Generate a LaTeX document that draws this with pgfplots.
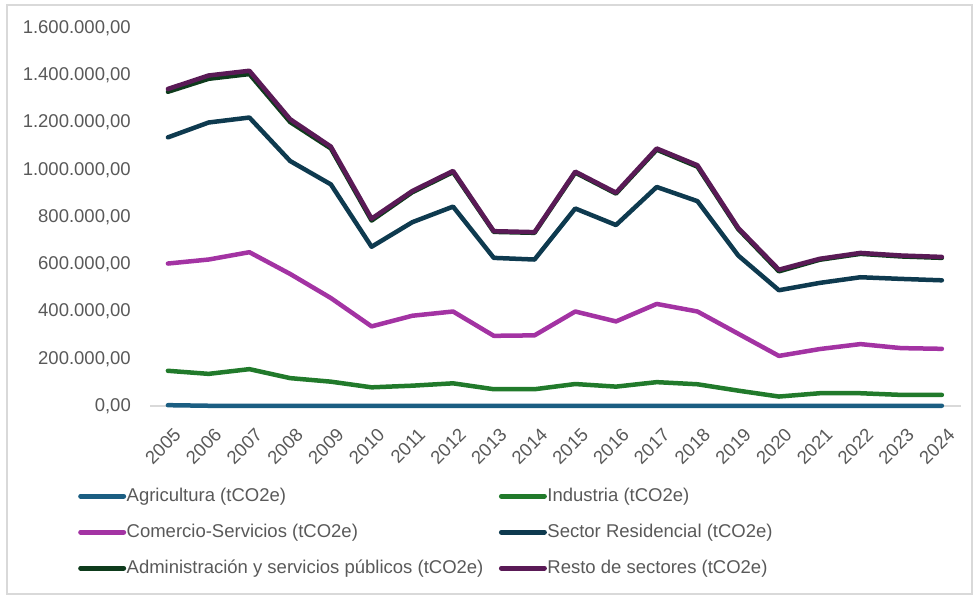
\documentclass[border=0pt]{standalone}
\usepackage{pgfplots}
\pgfplotsset{compat=1.18}
\usepackage{fontspec}
\setmainfont{Liberation Sans}
\definecolor{cAgr}{HTML}{1B5E82}
\definecolor{cInd}{HTML}{217A2B}
\definecolor{cCom}{HTML}{A333A3}
\definecolor{cRes}{HTML}{0E3A4F}
\definecolor{cAdm}{HTML}{0E3B1C}
\definecolor{cRst}{HTML}{5A1A56}
\definecolor{tgray}{HTML}{595959}
\definecolor{lgray}{HTML}{D9D9D9}
\newcommand{\fs}{\fontsize{18.5bp}{22bp}\selectfont}
\pgfplotstableread{
x agr ind com res adm rst
0 3500 149000 603000 1137000 1330000 1342000
1 1000 136000 620000 1200000 1385000 1399000
2 1000 156000 651000 1221000 1405000 1419000
3 1000 118000 559000 1037000 1202000 1214000
4 1000 103000 457000 938000 1090000 1098000
5 1000 79000 337000 674000 785000 793000
6 1000 86000 382000 778000 905000 910000
7 1000 96000 400000 844000 990000 995000
8 1000 71000 297000 627000 737000 740000
9 1000 71000 299000 620000 733000 736000
10 1000 93000 400000 836000 988000 992000
11 1000 82000 358000 766000 899000 903000
12 1000 101000 432000 927000 1085000 1090000
13 1000 92000 400000 867000 1013000 1019000
14 1000 65000 306000 637000 749000 754000
15 1000 40000 212000 490000 570000 577000
16 1000 54000 241000 521000 619000 623000
17 1000 54000 262000 545000 644000 648000
18 1000 47000 245000 538000 633000 637000
19 1000 47000 242000 532000 627000 631000
}\data
\begin{document}
\begin{tikzpicture}
\path (0bp,0bp) rectangle (973bp,595bp);
\draw[lgray, line width=1.2bp] (7bp,1bp) rectangle (972bp,590bp);
\begin{axis}[
  at={(150bp,189bp)}, anchor=south west, scale only axis,
  width=811bp, height=378bp,
  xmin=-0.44, xmax=19.47, ymin=0, ymax=1600000,
  clip=false,
  axis x line*=bottom, axis y line*=left,
  x axis line style={draw=lgray, line width=1.5bp, -},
  y axis line style={draw=none},
  major tick length=0pt,
  xtick={0,...,19},
  xticklabels={2005,2006,2007,2008,2009,2010,2011,2012,2013,2014,2015,2016,2017,2018,2019,2020,2021,2022,2023,2024},
  ytick={0,200000,400000,600000,800000,1000000,1200000,1400000,1600000},
  scaled y ticks=false,
  tick label style={font=\fs, text=tgray},
  /pgf/number format/assume math mode=true,
  y tick label style={/pgf/number format/fixed, /pgf/number format/fixed zerofill, /pgf/number format/precision=2, /pgf/number format/use comma, /pgf/number format/1000 sep={.}, inner sep=0pt, xshift=-19bp},
  x tick label style={xshift=9.7bp, yshift=-25.7bp, rotate=45, anchor=east, inner sep=0pt},
  legend columns=2,
  legend image code/.code={\draw[#1, line width=5bp] (0bp,0bp) -- (43bp,0bp);},
  legend style={at={(-0.0888,-0.2116)}, anchor=north west, draw=none, fill=none, inner sep=0pt,
    font=\fs, text=tgray, cells={anchor=west}, row sep=16bp,
    nodes={inner xsep=0.5bp, inner ysep=1bp, text height=14bp, text depth=4bp},
    /tikz/every even column/.append style={column sep=15bp}},
  every axis plot/.append style={line width=4.5bp, line join=round, line cap=round},
]
\addplot[cAgr] table[x=x,y=agr]{\data};
\addlegendentry{Agricultura (tCO2e)}
\addplot[cInd] table[x=x,y=ind]{\data};
\addlegendentry{Industria (tCO2e)}
\addplot[cCom] table[x=x,y=com]{\data};
\addlegendentry{Comercio-Servicios (tCO2e)}
\addplot[cRes] table[x=x,y=res]{\data};
\addlegendentry{Sector Residencial (tCO2e)}
\addplot[cAdm] table[x=x,y=adm]{\data};
\addlegendentry{Administración y servicios públicos (tCO2e)}
\addplot[cRst] table[x=x,y=rst]{\data};
\addlegendentry{Resto de sectores (tCO2e)}
\end{axis}
\end{tikzpicture}
\end{document}
